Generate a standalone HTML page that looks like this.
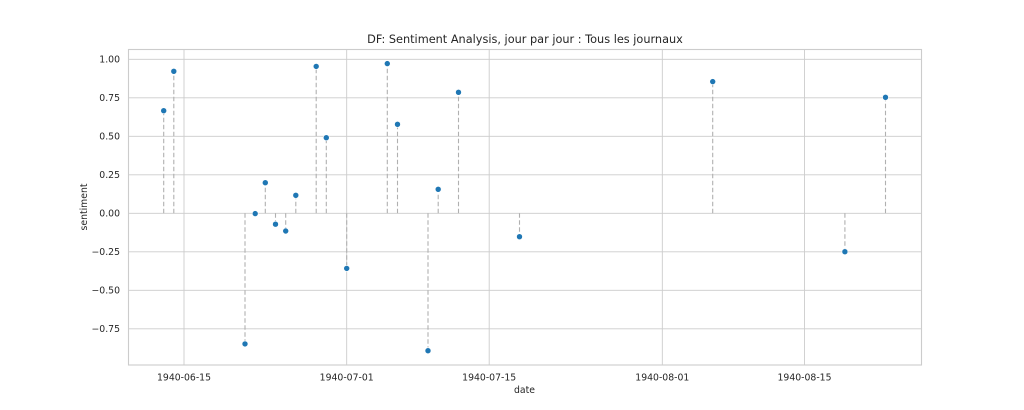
<!DOCTYPE html>
<html><head><meta charset="utf-8"><style>
html,body{margin:0;padding:0;background:#fff;}
svg{display:block;font-family:"DejaVu Sans","Liberation Sans",sans-serif;}
</style></head><body>
<svg width="1024" height="410" viewBox="0 0 1024 410" xmlns="http://www.w3.org/2000/svg">
<rect width="1024" height="410" fill="#fff"/>
<g stroke="#cccccc" stroke-width="0.9">
<line x1="128.5" x2="921.5" y1="59.3" y2="59.3"/>
<line x1="128.5" x2="921.5" y1="97.8" y2="97.8"/>
<line x1="128.5" x2="921.5" y1="136.3" y2="136.3"/>
<line x1="128.5" x2="921.5" y1="174.8" y2="174.8"/>
<line x1="128.5" x2="921.5" y1="213.3" y2="213.3"/>
<line x1="128.5" x2="921.5" y1="251.8" y2="251.8"/>
<line x1="128.5" x2="921.5" y1="290.3" y2="290.3"/>
<line x1="128.5" x2="921.5" y1="328.8" y2="328.8"/>
<line x1="184" x2="184" y1="49.5" y2="365"/>
<line x1="346.7" x2="346.7" y1="49.5" y2="365"/>
<line x1="489.2" x2="489.2" y1="49.5" y2="365"/>
<line x1="662.3" x2="662.3" y1="49.5" y2="365"/>
<line x1="804.5" x2="804.5" y1="49.5" y2="365"/>
</g>
<rect x="128.5" y="49.5" width="793" height="315.5" fill="none" stroke="#cccccc" stroke-width="1.1"/>
<g stroke="#b0b0b0" stroke-width="1.1" stroke-dasharray="4.5,2.5">
<line x1="163.7" x2="163.7" y1="213.3" y2="110.7"/>
<line x1="173.8" x2="173.8" y1="213.3" y2="71.3"/>
<line x1="245" x2="245" y1="213.3" y2="343.9"/>
<line x1="255.2" x2="255.2" y1="213.3" y2="213.6"/>
<line x1="265.3" x2="265.3" y1="213.3" y2="182.7"/>
<line x1="275.5" x2="275.5" y1="213.3" y2="224.2"/>
<line x1="285.7" x2="285.7" y1="213.3" y2="231"/>
<line x1="295.8" x2="295.8" y1="213.3" y2="195.3"/>
<line x1="316.2" x2="316.2" y1="213.3" y2="66.4"/>
<line x1="326.3" x2="326.3" y1="213.3" y2="137.7"/>
<line x1="346.7" x2="346.7" y1="213.3" y2="268.4"/>
<line x1="387.3" x2="387.3" y1="213.3" y2="63.6"/>
<line x1="397.5" x2="397.5" y1="213.3" y2="124.3"/>
<line x1="428" x2="428" y1="213.3" y2="350.7"/>
<line x1="438.2" x2="438.2" y1="213.3" y2="189.3"/>
<line x1="458.5" x2="458.5" y1="213.3" y2="92.3"/>
<line x1="519.5" x2="519.5" y1="213.3" y2="236.7"/>
<line x1="712.7" x2="712.7" y1="213.3" y2="81.6"/>
<line x1="844.9" x2="844.9" y1="213.3" y2="251.7"/>
<line x1="885.5" x2="885.5" y1="213.3" y2="97.3"/>
</g>
<g fill="#1f77b4" stroke="#fff" stroke-width="0.6">
<circle cx="163.7" cy="110.7" r="3"/>
<circle cx="173.8" cy="71.3" r="3"/>
<circle cx="245" cy="343.9" r="3"/>
<circle cx="255.2" cy="213.6" r="3"/>
<circle cx="265.3" cy="182.7" r="3"/>
<circle cx="275.5" cy="224.2" r="3"/>
<circle cx="285.7" cy="231" r="3"/>
<circle cx="295.8" cy="195.3" r="3"/>
<circle cx="316.2" cy="66.4" r="3"/>
<circle cx="326.3" cy="137.7" r="3"/>
<circle cx="346.7" cy="268.4" r="3"/>
<circle cx="387.3" cy="63.6" r="3"/>
<circle cx="397.5" cy="124.3" r="3"/>
<circle cx="428" cy="350.7" r="3"/>
<circle cx="438.2" cy="189.3" r="3"/>
<circle cx="458.5" cy="92.3" r="3"/>
<circle cx="519.5" cy="236.7" r="3"/>
<circle cx="712.7" cy="81.6" r="3"/>
<circle cx="844.9" cy="251.7" r="3"/>
<circle cx="885.5" cy="97.3" r="3"/>
</g>
<g fill="#262626" font-size="9.3" text-anchor="end">
<text x="120" y="62.6">1.00</text>
<text x="120" y="101.1">0.75</text>
<text x="120" y="139.6">0.50</text>
<text x="120" y="178.1">0.25</text>
<text x="120" y="216.6">0.00</text>
<text x="120" y="255.1">−0.25</text>
<text x="120" y="293.6">−0.50</text>
<text x="120" y="332.1">−0.75</text>
</g>
<g fill="#262626" font-size="9.3" text-anchor="middle">
<text x="184" y="380.5">1940-06-15</text>
<text x="346.7" y="380.5">1940-07-01</text>
<text x="489.2" y="380.5">1940-07-15</text>
<text x="662.3" y="380.5">1940-08-01</text>
<text x="804.5" y="380.5">1940-08-15</text>
<text x="524.5" y="393">date</text>
<text transform="translate(87,207) rotate(-90)">sentiment</text>
</g>
<text x="525" y="43" fill="#262626" font-size="11.3" text-anchor="middle">DF: Sentiment Analysis, jour par jour : Tous les journaux</text>
</svg>
</body></html>
